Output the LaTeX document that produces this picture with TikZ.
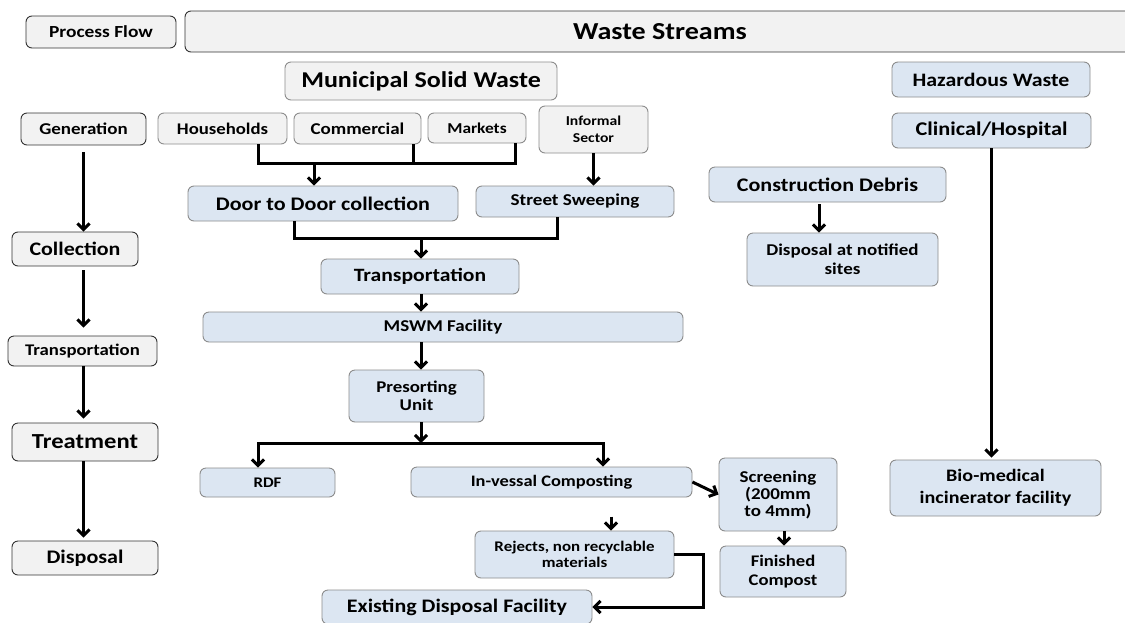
\documentclass[tikz,border=0pt]{standalone}
\usepackage{fontspec}
\setmainfont{Carlito}[FakeStretch=1.15]
\usetikzlibrary{arrows.meta}

\definecolor{boxgray}{HTML}{F2F2F2}
\definecolor{boxblue}{HTML}{DCE6F2}
\definecolor{edgegray}{HTML}{8C8C8C}

\tikzset{
  boxbase/.style={rounded corners=6pt, inner sep=0pt, align=center, line width=0.9pt},
  stepbox/.style={boxbase, draw=black!80, fill=boxgray},
  graybox/.style={boxbase, draw=edgegray, fill=boxgray},
  bluebox/.style={boxbase, draw=edgegray, fill=boxblue},
  sz/.style 2 args={minimum width=#1pt, minimum height=#2pt},
  txt/.style 2 args={font=\fontsize{#1}{#2}\selectfont\bfseries},
  arr/.style={line width=3pt, -{Straight Barb[length=6pt,width=12pt]}},
  ln/.style={line width=3pt},
}

\begin{document}
\begin{tikzpicture}[x=1pt, y=-1pt]
  \useasboundingbox (0,0) rectangle (1125,622);

  % Headers
  \node[stepbox, sz={150}{32}, txt={16.9}{19}] (pflow) at (101,32) {Process Flow};
  \node[stepbox, sz={950}{41}, txt={24.4}{28}] (wstreams) at (660,31.5) {Waste Streams};

  % Process flow column
  \node[stepbox, sz={125}{32}, txt={16.5}{19}] (gen) at (83.5,129) {Generation};
  \node[stepbox, sz={126}{34}, txt={19.1}{22}] (coll) at (75,249) {Collection};
  \node[stepbox, sz={149}{30}, txt={16.3}{19}] (ltrans) at (82.5,351) {Transportation};
  \node[stepbox, sz={146}{38}, txt={21.4}{24}] (treat) at (85,442) {Treatment};
  \node[stepbox, sz={146}{34}, txt={19.2}{22}] (disp) at (85,558) {Disposal};

  \draw[arr, shorten <=7pt] (gen.south) -- (gen.south |- coll.north);
  \draw[arr, shorten <=4pt, shorten >=8pt] (gen.south |- coll.south) -- (gen.south |- ltrans.north);
  \draw[arr, shorten >=4pt] (gen.south |- ltrans.south) -- (gen.south |- treat.north);
  \draw[arr, shorten >=3pt] (gen.south |- treat.south) -- (gen.south |- disp.north);

  % Municipal solid waste
  \node[graybox, sz={272}{38}, txt={22.6}{26}] (msw) at (421,81) {Municipal Solid Waste};
  \node[graybox, sz={129}{31}, txt={16.3}{19}] (house) at (222.5,128.5) {Households};
  \node[graybox, sz={127}{31}, txt={16.5}{19}] (comm) at (357.5,128.5) {Commercial};
  \node[graybox, sz={98}{30}, txt={15.1}{18}] (markets) at (477,128) {Markets};
  \node[graybox, sz={109}{47}, txt={13.6}{17}] (informal) at (593.5,129.5) {Informal\\Sector};

  \node[bluebox, sz={270}{35}, txt={19.2}{22}] (d2d) at (323,203.5) {Door to Door collection};
  \node[bluebox, sz={198}{31}, txt={16.6}{19}] (sweep) at (575,201.5) {Street Sweeping};
  \node[bluebox, sz={198}{35}, txt={18.8}{22}] (trans) at (420,276.5) {Transportation};
  \node[bluebox, sz={480}{30}, txt={16.5}{19}] (mswm) at (443,327) {MSWM Facility};
  \node[bluebox, sz={135}{52}, txt={16.4}{18}] (pres) at (416.5,396) {Presorting\\Unit};
  \node[bluebox, sz={135}{29}, txt={14.7}{17}] (rdf) at (267.5,482.5) {RDF};
  \node[bluebox, sz={281}{30}, txt={16}{19}] (invessal) at (551.5,482) {In-vessal Composting};
  \node[bluebox, sz={118}{73}, txt={16.5}{17}] (screen) at (778,494.5) {Screening\\(200mm\\to 4mm)};
  \node[bluebox, sz={126}{51}, txt={16.2}{19}] (finished) at (783,571.5) {Finished\\Compost};
  \node[bluebox, sz={199}{47}, txt={14.7}{16}] (rejects) at (574.5,554.5) {Rejects, non recyclable\\materials};
  \node[bluebox, sz={270}{34}, txt={19.1}{22}] (existing) at (457,607) {Existing Disposal Facility};

  \coordinate (msplit) at (314,163);
  \coordinate (cjoin) at (421,238);
  \coordinate (psplit) at (421,443);

  \draw[ln] ([xshift=35.5pt]house.south) -- ++(0,19) -| ([xshift=38pt]markets.south);
  \draw[ln] ([xshift=55.5pt]comm.south) -- ++(0,19);
  \draw[arr] (msplit) -- (msplit |- d2d.north);
  \draw[arr] (informal.south) -- (informal.south |- sweep.north);

  \draw[ln] ([xshift=-29pt]d2d.south) |- (cjoin) -| ([xshift=-18pt]sweep.south);
  \draw[arr] (cjoin) -- (cjoin |- trans.north);
  \draw[arr] (cjoin |- trans.south) -- (cjoin |- mswm.north);
  \draw[arr] (cjoin |- mswm.south) -- (cjoin |- pres.north);
  \draw[arr] (cjoin |- pres.south) -- (psplit);
  \draw[arr] (psplit) -| ([xshift=-9.5pt]rdf.north);
  \draw[arr] (psplit) -| ([xshift=51.5pt]invessal.north);

  \draw[arr] (invessal.east) -- (screen.west);
  \draw[arr] ([xshift=6pt]screen.south) -- ([xshift=6pt]screen.south |- finished.north);
  \draw[arr] ([xshift=36.5pt]rejects.north) ++(0,-14) -- ([xshift=36.5pt]rejects.north);
  \draw[arr] (rejects.east) -- ++(29,0) |- (existing.east);

  % Other waste streams
  \node[bluebox, sz={198}{35}, txt={19}{22}] (haz) at (991,79.5) {Hazardous Waste};
  \node[bluebox, sz={199}{35}, txt={19.4}{22}] (clin) at (991.5,130.5) {Clinical/Hospital};
  \node[bluebox, sz={237}{35}, txt={19.2}{22}] (constr) at (827.5,184.5) {Construction Debris};
  \node[bluebox, sz={191}{53}, txt={16.5}{19}] (dnot) at (842.5,259.5) {Disposal at notified\\sites};
  \node[bluebox, sz={211}{56}, txt={17.5}{22}] (bio) at (995.5,488) {Bio-medical\\incinerator facility};

  \draw[arr, shorten <=2pt] ([xshift=-8.5pt]constr.south) -- ([xshift=-8.5pt]constr.south |- dnot.north);
  \draw[arr, shorten >=2pt] (clin.south) -- (clin.south |- bio.north);

\end{tikzpicture}
\end{document}
